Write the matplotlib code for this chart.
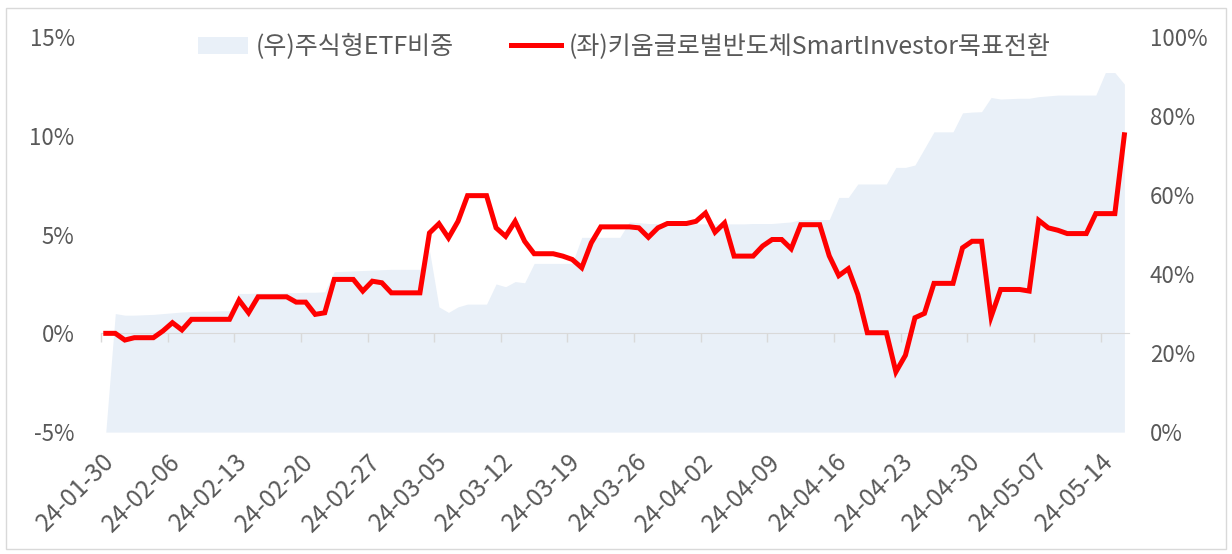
import numpy as np
import pandas as pd
import matplotlib
matplotlib.use("Agg")
import matplotlib.pyplot as plt
import matplotlib.dates as mdates
from matplotlib.patches import Rectangle

plt.rcParams['font.family'] = ['Noto Sans CJK KR', 'DejaVu Sans']

# data (daily, 2024-01-30 .. 2024-05-16)
dates = pd.date_range('2024-01-30', periods=108, freq='D')
fund_ret = [0.0, 0.0, -0.34, -0.22, -0.22, -0.22, 0.12, 0.54, 0.17, 0.71,
            0.71, 0.71, 0.71, 0.71, 1.68, 1.04, 1.85, 1.85, 1.85, 1.85,
            1.58, 1.58, 0.96, 1.04, 2.73, 2.73, 2.73, 2.14, 2.64, 2.56,
            2.05, 2.05, 2.05, 2.05, 5.08, 5.55, 4.83, 5.67, 6.97, 6.97,
            6.97, 5.34, 4.91, 5.67, 4.66, 4.03, 4.03, 4.03, 3.91, 3.74,
            3.32, 4.58, 5.39, 5.39, 5.39, 5.39, 5.34, 4.86, 5.34, 5.56,
            5.56, 5.56, 5.67, 6.09, 5.12, 5.59, 3.91, 3.91, 3.91, 4.42,
            4.75, 4.75, 4.28, 5.50, 5.50, 5.50, 3.92, 2.92, 3.27, 1.97,
            0.03, 0.03, 0.03, -1.95, -1.11, 0.79, 1.01, 2.53, 2.53, 2.53,
            4.33, 4.66, 4.66, 0.84, 2.22, 2.22, 2.22, 2.14, 5.72, 5.34,
            5.22, 5.05, 5.05, 5.05, 6.06, 6.06, 6.06, 10.05]
etf_weight = [0.0, 30.0, 29.6, 29.6, 29.7, 29.8, 30.0, 30.2, 30.4, 30.5,
              30.6, 30.6, 30.7, 30.7, 35.1, 35.1, 35.2, 35.2, 35.2, 35.3,
              35.3, 35.4, 35.4, 35.5, 40.6, 40.7, 40.8, 40.9, 41.0, 41.1,
              41.2, 41.2, 41.2, 41.2, 46.0, 31.7, 30.3, 31.7, 32.4, 32.4,
              32.4, 37.5, 36.8, 38.1, 37.8, 42.7, 42.7, 42.7, 42.7, 42.7,
              49.3, 49.3, 49.3, 49.3, 49.3, 53.2, 53.0, 52.8, 52.8, 52.7,
              52.7, 52.7, 52.7, 52.7, 52.7, 52.7, 52.7, 52.7, 52.8, 52.8,
              52.8, 53.0, 53.2, 53.8, 53.8, 53.8, 53.8, 59.4, 59.4, 62.8,
              62.8, 62.8, 62.8, 67.0, 67.0, 67.6, 71.8, 76.0, 76.0, 76.0,
              80.8, 81.0, 81.1, 84.7, 84.3, 84.4, 84.5, 84.5, 84.9, 85.1,
              85.3, 85.3, 85.3, 85.3, 85.3, 91.0, 91.0, 88.1]
tick_dates = pd.date_range('2024-01-30', '2024-05-14', freq='7D')

gray = '#595959'
x = dates + pd.Timedelta(hours=12)

fig = plt.figure(figsize=(12.32, 5.54), dpi=100)
ax = fig.add_axes([0.082, 0.22, 0.8345, 0.7132])
ax2 = ax.twinx()
ax.set_zorder(ax2.get_zorder() + 1)
ax.patch.set_visible(False)

ax2.fill_between(x, etf_weight, 0, color='#e9f0f8', lw=0, label='(우)주식형ETF비중')
ax.plot(x, fund_ret, color='#ff0000', lw=3.6, solid_joinstyle='miter',
        label='(좌)키움글로벌반도체SmartInvestor목표전환')

ax.set_xlim(dates[0], dates[-1] + pd.Timedelta(days=1))
ax.set_ylim(-5, 15)
ax2.set_ylim(0, 100)
ax.set_yticks([-5, 0, 5, 10, 15])
ax.set_yticklabels([f'{v}%' for v in [-5, 0, 5, 10, 15]])
ax2.set_yticks([0, 20, 40, 60, 80, 100])
ax2.set_yticklabels([f'{v}%' for v in [0, 20, 40, 60, 80, 100]])

ax.set_xticks(tick_dates)
ax.xaxis.set_major_formatter(mdates.DateFormatter('%y-%m-%d'))
plt.setp(ax.get_xticklabels(), rotation=45, ha='right', rotation_mode='anchor')

for a in (ax, ax2):
    for s in a.spines.values():
        s.set_visible(False)
ax.tick_params(axis='x', length=0, pad=12, labelsize=17.5, labelcolor=gray)
ax.tick_params(axis='y', length=0, pad=19, labelsize=16, labelcolor=gray)
ax2.tick_params(axis='y', length=0, pad=15, labelsize=16, labelcolor=gray)

# axis line at 0% with weekly ticks
sec = ax.secondary_xaxis(0.25)
sec.set_xticks(tick_dates)
sec.tick_params(axis='x', direction='out', length=6.5, color='#d9d9d9',
                labelbottom=False, width=1)
sec.spines['bottom'].set_color('#d9d9d9')
for s in ['top', 'left', 'right']:
    sec.spines[s].set_visible(False)

h1, l1 = ax2.get_legend_handles_labels()
h2, l2 = ax.get_legend_handles_labels()
leg = fig.legend(h1 + h2, l1 + l2, loc='center', ncol=2, frameon=False,
                 bbox_to_anchor=(0.507, 1 - 47 / 554), fontsize=18,
                 handlelength=2.0, handletextpad=0.3, columnspacing=2.3)
for t in leg.get_texts():
    t.set_color(gray)

fig.patches.append(Rectangle((6 / 1232, 5 / 554), 1220 / 1232, 541 / 554,
                             transform=fig.transFigure, fill=False,
                             ec='#d9d9d9', lw=1))

fig.savefig('out.png', dpi=100)
